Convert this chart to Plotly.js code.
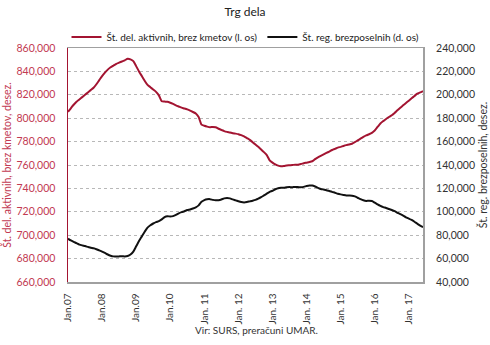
<!DOCTYPE html>
<html>
<head>
<meta charset="utf-8">
<script src="https://cdn.plot.ly/plotly-3.0.1.min.js"></script>
<style>html,body{margin:0;padding:0;background:#fff;}#chart{width:490px;height:345px;}</style>
</head>
<body>
<div id="chart"></div>
<script>
// Monthly data, Jan 2007 .. Jun 2017 (126 months)
const yearTickLabels = ["Jan.07","Jan.08","Jan.09","Jan.10","Jan. 11","Jan. 12","Jan. 13","Jan. 14","Jan. 15","Jan. 16","Jan. 17"];
const activeThousands = [
805.5,808.5,811.5,814,816,818,820,822,824,826,829,832.5,
836,839,841.5,843.5,845,846.5,847.5,848.5,849.5,850.8,850.3,848.8,
844.5,840,836,832,828.5,826.5,824.5,822.5,819.5,814.5,814.2,814,
813.2,812.2,811,810,809,808.3,807.5,806.5,805.3,804,801,794.5,
793.5,792.8,792.3,792.5,792.3,791,790,789,788.3,787.8,787.2,786.8,
786.3,785.5,784.5,783,781.5,779.5,777.5,775.5,773.3,771,768.5,764,
762,760.5,759.5,759,759.2,759.6,759.8,760,760.3,760.3,760.8,761.5,
762,762.5,763.2,765,766.5,767.8,769,770.3,771.5,772.8,773.8,774.8,
775.5,776.3,777,777.5,778.2,779.5,781,782.5,784,785.3,786.3,787.5,
789.5,792.5,795.5,797.5,799.3,801,802.5,804.5,806.8,809,811,813,
815,817,819,821,822,823.2
];
const unemployedThousands = [
77.0,75.5,74.3,73.2,72.0,71.3,70.7,70.0,69.3,68.8,68.0,67.0,
66.0,64.8,63.5,62.5,61.9,61.7,61.9,62.0,61.8,62.2,63.5,66.0,
70.5,75.0,79.0,83.0,86.5,88.5,90.0,91.2,92.0,93.5,95.5,96.2,
96.0,96.3,97.3,98.7,99.7,100.5,101.5,102.0,102.8,103.8,105.5,108.5,
110.0,110.7,110.8,110.2,109.8,109.9,110.5,111.5,111.8,111.5,110.6,109.8,
109.0,108.3,108.0,108.3,108.9,109.5,110.2,111.2,112.5,114.0,115.5,117.0,
118.0,119.3,120.2,120.5,120.6,121.0,121.1,121.0,121.2,121.1,121.0,121.3,
122.0,122.5,122.4,121.6,120.5,119.5,119.0,118.4,117.8,117.0,116.3,115.5,
114.9,114.4,114.0,113.9,113.8,113.2,112.0,110.8,109.8,109.3,109.5,109.2,
107.8,106.3,105.0,104.0,103.3,102.4,101.5,100.5,99.2,98.0,96.8,95.3,
94.2,93.0,91.5,89.8,88.2,86.8
];

const months = activeThousands.map((_, i) => i);
const tickMonths = yearTickLabels.map((_, i) => i * 12);

const FONT = "Lato, 'Open Sans', sans-serif";
const RED = "#a31431";
const REDTXT = "#c23a52";

const traces = [
  {x: months, y: activeThousands.map(v => v * 1000), type: "scatter", mode: "lines",
   name: "Št. del. aktivnih, brez kmetov (l. os)", line: {color: RED, width: 2, shape: "spline", smoothing: 0.6}, yaxis: "y"},
  {x: months, y: unemployedThousands.map(v => v * 1000), type: "scatter", mode: "lines",
   name: "Št. reg. brezposelnih (d. os)", line: {color: "#111", width: 2, shape: "spline", smoothing: 0.6}, yaxis: "y2"}
];

const layout = {
  width: 490, height: 345,
  margin: {l: 68, r: 67, t: 48, b: 63},
  paper_bgcolor: "#fff", plot_bgcolor: "#fff",
  font: {family: FONT, size: 10, color: "#333"},
  title: {text: "Trg dela", x: 0.5, xanchor: "center", y: 0.965, yanchor: "middle",
          font: {family: FONT, size: 12, color: "#222"}},
  showlegend: true,
  legend: {orientation: "h", x: 0.5, xanchor: "center", y: 1.047, yanchor: "middle",
           font: {family: FONT, size: 10, color: "#222"}, itemwidth: 30, tracegroupgap: 0,
           bgcolor: "rgba(0,0,0,0)"},
  xaxis: {range: [0, 125], tickmode: "array", tickvals: tickMonths, ticktext: yearTickLabels,
          tickangle: -90, showgrid: false, zeroline: false, showline: true, mirror: true,
          linecolor: "#a0a0a0", linewidth: 1.5, ticks: "", tickfont: {family: FONT, size: 10, color: "#333"},
          ticklabelstandoff: 6},
  yaxis: {range: [660000, 860000], dtick: 20000, tickformat: ",d", showgrid: true,
          gridcolor: "#b8b8b8", griddash: "dot", gridwidth: 1, zeroline: false,
          showline: true, linecolor: RED, linewidth: 1.5, ticks: "",
          tickfont: {family: FONT, size: 10.5, color: REDTXT}, ticklabelstandoff: 9,
          title: {text: "Št. del. aktivnih, brez kmetov, desez.", font: {family: FONT, size: 10.5, color: REDTXT}, standoff: 6}},
  yaxis2: {range: [40000, 240000], dtick: 20000, tickformat: ",d", overlaying: "y", side: "right",
           showgrid: false, zeroline: false, showline: true, linecolor: "#a0a0a0", linewidth: 2, ticks: "",
           tickfont: {family: FONT, size: 10.5, color: "#333"}, ticklabelstandoff: 9,
           title: {text: "Št. reg. brezposelnih, desez.", font: {family: FONT, size: 10.5, color: "#333"}, standoff: 6}},
  annotations: [{text: "Vir: SURS, preračuni UMAR.", xref: "paper", yref: "paper", x: 0.53, y: -0.204,
                 xanchor: "center", yanchor: "middle", showarrow: false,
                 font: {family: FONT, size: 10, color: "#333"}}]
};

Plotly.newPlot("chart", traces, layout, {displayModeBar: false, staticPlot: true});
</script>
</body>
</html>
